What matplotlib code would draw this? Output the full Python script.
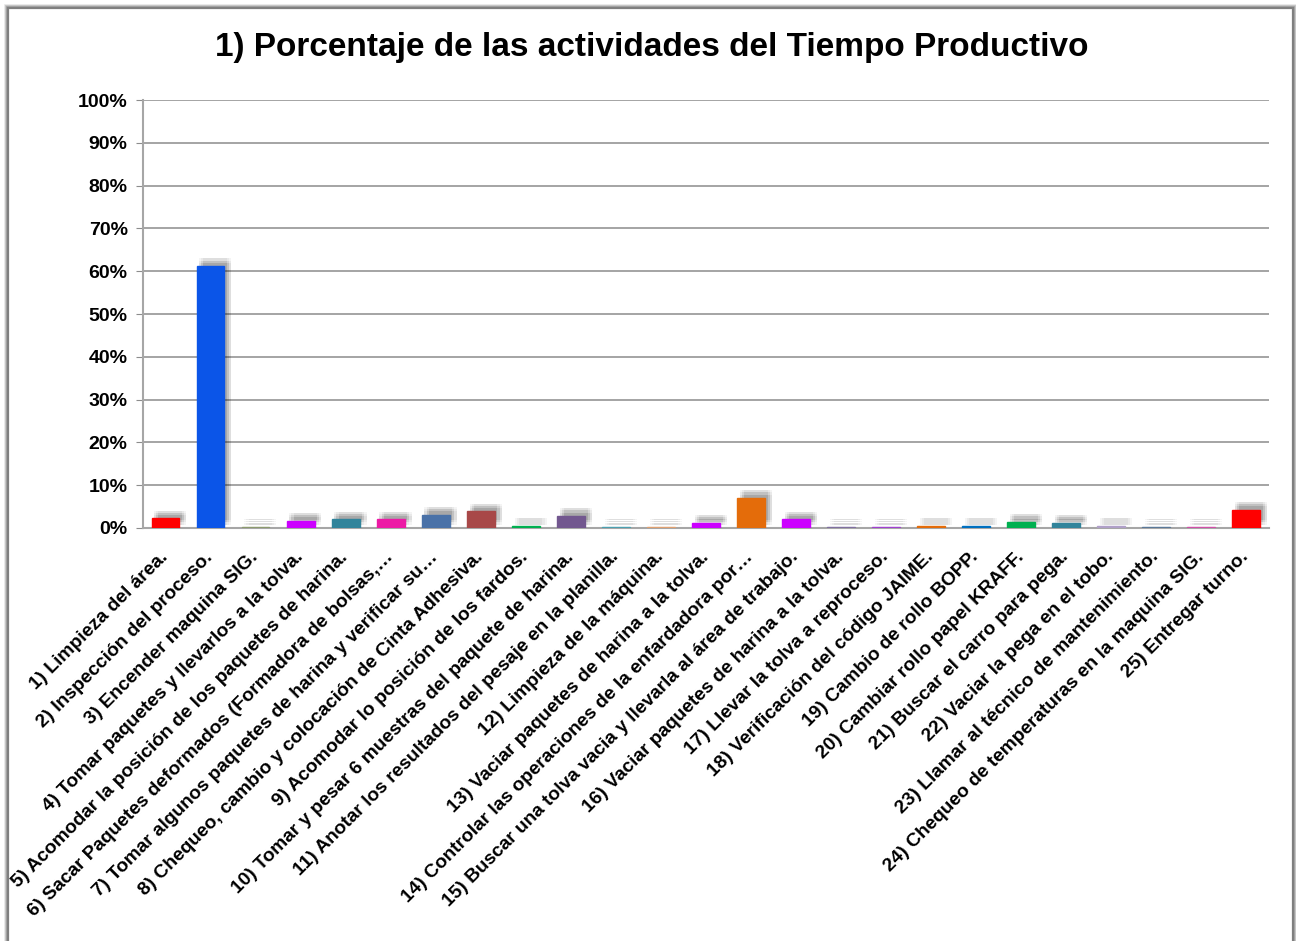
import numpy as np
import matplotlib
matplotlib.use("Agg")
import matplotlib.pyplot as plt
import matplotlib.patheffects as pe
from matplotlib.patches import Rectangle
from matplotlib.ticker import FuncFormatter
from matplotlib.transforms import Bbox, TransformedBbox, ScaledTranslation

plt.rcParams['font.family'] = ['Liberation Sans', 'DejaVu Sans']

# Activities of the productive time and their share (%)
actividades = [
    "1) Limpieza del área.",
    "2) Inspección del proceso.",
    "3) Encender maquina SIG.",
    "4) Tomar paquetes y llevarlos a la tolva.",
    "5) Acomodar la posición de los paquetes de harina.",
    "6) Sacar Paquetes deformados (Formadora de bolsas,…",
    "7) Tomar algunos paquetes de harina y verificar su…",
    "8) Chequeo, cambio y colocación de Cinta Adhesiva.",
    "9) Acomodar lo posición de los fardos.",
    "10) Tomar y pesar 6 muestras del paquete de harina.",
    "11) Anotar los resultados del pesaje en la planilla.",
    "12) Limpieza de la máquina.",
    "13) Vaciar paquetes de harina a la tolva.",
    "14) Controlar las operaciones de la enfardadora por…",
    "15) Buscar una tolva vacia y llevarla al área de trabajo.",
    "16) Vaciar paquetes de harina a la tolva.",
    "17) Llevar la tolva a reproceso.",
    "18) Verificación del código JAIME.",
    "19) Cambio de rollo BOPP.",
    "20) Cambiar rollo papel KRAFF.",
    "21) Buscar el carro para pega.",
    "22) Vaciar la pega en el tobo.",
    "23) Llamar al técnico de mantenimiento.",
    "24) Chequeo de temperaturas en la maquina SIG.",
    "25) Entregar turno.",
]
porcentaje = [2.3, 61.2, 0.3, 1.7, 2.0, 2.0, 3.1, 3.9, 0.55, 2.8,
              0.3, 0.3, 1.2, 7.0, 2.0, 0.3, 0.3, 0.55, 0.55, 1.4,
              1.2, 0.55, 0.3, 0.3, 4.3]
colores = ['#FF0000', '#0B55E8', '#8C9A6E', '#CC00FF', '#31849B',
           '#EC1AA5', '#4A72A8', '#A84848', '#00B050', '#72578F',
           '#4BA0B0', '#E0A070', '#CC00FF', '#E46C0A', '#CC00FF',
           '#8070A0', '#A040D0', '#E46C0A', '#0070C0', '#00B050',
           '#31849B', '#B0A0C8', '#5A7898', '#D050A8', '#FF0000']

fig = plt.figure(figsize=(12.96, 9.41), dpi=100)
ax = fig.add_axes([0.1103, 0.4389, 0.8687, 0.4548])

x = np.arange(len(actividades))
bars = ax.bar(x, porcentaje, width=0.62, color=colores, edgecolor=colores,
              linewidth=1.0, zorder=4)

# soft drop shadow up and to the right of every bar
sombra = []
for dx in (2, 3.5, 5):
    for dy in (2.5, 4, 5.5):
        sombra.append(pe.SimplePatchShadow(offset=(dx, dy), shadow_rgbFace='#000000', alpha=0.045))
sombra.append(pe.Normal())
for b in bars:
    b.set_path_effects(sombra)

ax.set_xlim(-0.5, len(actividades) - 0.5)
ax.set_ylim(0, 100)
ax.set_yticks(np.arange(0, 101, 10))
ax.yaxis.set_major_formatter(FuncFormatter(lambda v, p: f"{v:.0f}%"))
ax.grid(axis='y', color='#8C8C8C', linewidth=1.1, zorder=0)
ax.set_axisbelow(True)

for s in ('top', 'right'):
    ax.spines[s].set_visible(False)
ax.spines['left'].set_color('#A6A6A6')
ax.spines['left'].set_linewidth(1.5)
ax.spines['bottom'].set_color('#A6A6A6')
ax.spines['bottom'].set_linewidth(1.5)

ax.tick_params(axis='y', length=5, color='#8C8C8C', labelsize=14, pad=6)
ax.tick_params(axis='x', length=0, pad=19)
for t in ax.get_yticklabels():
    t.set_fontweight('bold')

ax.set_xticks(x)
ax.set_xticklabels(actividades, rotation=45, ha='right', va='center',
                   rotation_mode='anchor', fontsize=13.8, fontweight='bold')

# labels are cut by the chart frame
clip = TransformedBbox(Bbox([[9 / 1296, 0], [1, 1]]), fig.transFigure)
offset = ScaledTranslation(0, 0, fig.dpi_scale_trans)
for t in ax.get_xticklabels():
    t.set_transform(t.get_transform() + offset)
    t.set_clip_box(clip)
    t.set_clip_on(True)

fig.text(0.503, 0.949, "1) Porcentaje de las actividades del Tiempo Productivo",
         ha='center', va='center', fontsize=24, fontweight='bold')

# chart frame with a light shadow
for i, a in enumerate([0.10, 0.18, 0.28]):
    d = (3 - i) / 1296
    fig.patches.append(Rectangle((8 / 1296 - d, -0.05), (1285 / 1296) + 2 * d, 1 - 8 / 941 + 0.05 + d * 1296 / 941,
                                 transform=fig.transFigure, fill=False,
                                 edgecolor='black', alpha=a, linewidth=1.2))
fig.patches.append(Rectangle((8 / 1296, -0.05), 1285 / 1296, 1 - 8 / 941 + 0.05,
                             transform=fig.transFigure, fill=False,
                             edgecolor='#7F7F7F', linewidth=1.6))

fig.savefig("out.png", dpi=100)
